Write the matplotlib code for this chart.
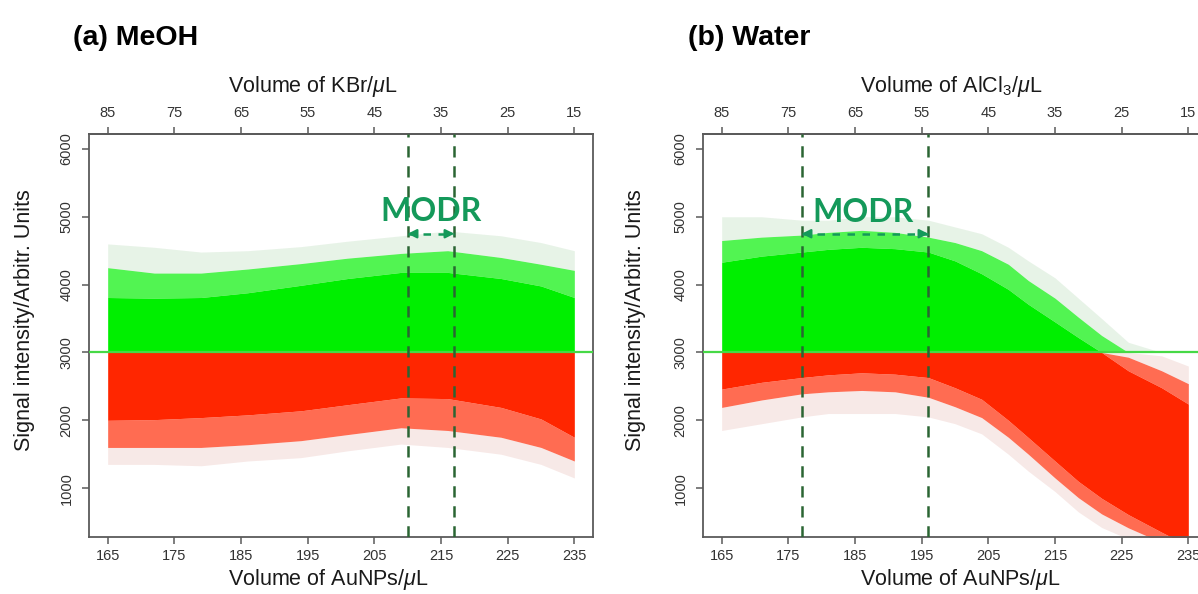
import numpy as np
import matplotlib
matplotlib.use("Agg")
import matplotlib.pyplot as plt
from matplotlib import font_manager

# ---------------- data ----------------
THRESHOLD = 3000
TOTAL_VOLUME = 250  # AuNPs + salt

bottom_ticks = [165, 175, 185, 195, 205, 215, 225, 235]
top_ticks = [85, 75, 65, 55, 45, 35, 25, 15]
y_ticks = [1000, 2000, 3000, 4000, 5000, 6000]

# (a) MeOH  -- envelopes of the simulated cloud
a_x = [165, 172, 179, 186, 194, 201, 209, 216, 224, 230, 235]
a_outer_top = [4600, 4550, 4480, 4500, 4560, 4640, 4720, 4790, 4720, 4620, 4500]
a_mid_top = [4250, 4170, 4170, 4230, 4310, 4390, 4460, 4500, 4400, 4300, 4210]
a_core_top = [3810, 3800, 3810, 3880, 3990, 4090, 4180, 4180, 4090, 3980, 3810]
a_core_bot = [2000, 2010, 2040, 2080, 2140, 2230, 2330, 2320, 2190, 2020, 1750]
a_mid_bot = [1600, 1600, 1600, 1640, 1700, 1790, 1890, 1850, 1750, 1600, 1400]
a_outer_bot = [1350, 1350, 1330, 1400, 1450, 1550, 1650, 1600, 1500, 1350, 1150]
a_modr = [210, 217]

# (b) Water
b_x = [165, 171, 177, 181, 186, 191, 196, 200, 204, 208, 211, 215, 218.5, 222, 226, 231, 235]
b_outer_top = [5000, 5000, 4950, 4950, 5000, 5000, 4950, 4850, 4750, 4550, 4350, 4100, 3800, 3500, 3150, 2950, 2800]
b_mid_top = [4650, 4700, 4730, 4770, 4800, 4770, 4700, 4620, 4500, 4300, 4060, 3800, 3520, 3250, 2930, 2730, 2540]
b_core_top = [4330, 4420, 4480, 4520, 4550, 4530, 4480, 4350, 4160, 3930, 3710, 3450, 3220, 3000, 2730, 2480, 2240]
b_core_bot = [2460, 2560, 2630, 2670, 2700, 2680, 2630, 2480, 2310, 2000, 1745, 1400, 1100, 850, 610, 350, 150]
b_mid_bot = [2190, 2300, 2390, 2420, 2440, 2420, 2340, 2200, 2040, 1750, 1500, 1150, 860, 620, 415, 200, 0]
b_outer_bot = [1850, 1950, 2050, 2100, 2100, 2100, 2050, 1950, 1800, 1500, 1250, 950, 650, 420, 250, 0, 0]
b_modr = [177, 196]

# ---------------- style ----------------
GREEN = "#00ef00"
GREEN_DARK = "#3f9f3f"
RED = "#ff2600"
RED_DARK = "#c54a3a"
LINE_GREEN = "#46d946"
VLINE = "#2a6533"
MODR_COLOR = "#14995a"
FRAME = "#5a5a5a"

names = {f.name for f in font_manager.fontManager.ttflist}
if "Liberation Sans Narrow" in names:
    TICK_FONT, TICK_SIZE = "Liberation Sans Narrow", 12.5
else:
    TICK_FONT, TICK_SIZE = "Liberation Sans", 10.5
MAIN_FONT = "Liberation Sans"
MODR_FONT = "Lato" if "Lato" in names else "DejaVu Sans"

W, H = 1198, 594
fig = plt.figure(figsize=(W / 100, H / 100), dpi=100)


def fx(px):
    return px / W


def fy(py):
    return 1 - py / H


def draw_cloud(ax, x, outer_bot, mid_bot, core_bot, core_top, mid_top, outer_top):
    x = np.asarray(x, float)
    layers = [
        (outer_bot, mid_bot, "outer"),
        (mid_bot, core_bot, "mid"),
        (core_bot, core_top, "core"),
        (core_top, mid_top, "mid"),
        (mid_top, outer_top, "outer"),
    ]
    style = {
        "core": ((GREEN, 1.0), (RED, 1.0)),
        "mid": ((GREEN, 0.68), (RED, 0.68)),
        "outer": ((GREEN_DARK, 0.12), (RED_DARK, 0.12)),
    }
    for lo, hi, kind in layers:
        lo = np.asarray(lo, float)
        hi = np.asarray(hi, float)
        (gc, ga), (rc, ra) = style[kind]
        ax.fill_between(x, np.maximum(lo, THRESHOLD), np.maximum(hi, THRESHOLD),
                        color=gc, alpha=ga, lw=0)
        ax.fill_between(x, np.minimum(lo, THRESHOLD), np.minimum(hi, THRESHOLD),
                        color=rc, alpha=ra, lw=0)


def setup_axes(rect, top_label, xlab_left_px, ylab_x_px, title, title_px, modr,
               modr_center_px, cloud):
    ax = fig.add_axes(rect)
    ax.set_xlim(162.2, 237.8)
    ax.set_ylim(280, 6220)
    draw_cloud(ax, *cloud)
    ax.axhline(THRESHOLD, color=LINE_GREEN, lw=1.6, zorder=3)
    for v in modr:
        ax.axvline(v, color=VLINE, lw=1.8, ls=(0, (4.5, 3.5)), zorder=4)
    # MODR arrow
    y_arrow = 4750
    ax.plot(modr, [y_arrow, y_arrow], color=MODR_COLOR, lw=1.8, ls=(0, (3, 3)), zorder=5)
    for a, b in ((modr[0] + 1.2, modr[0]), (modr[1] - 1.2, modr[1])):
        ax.annotate("", xy=(b, y_arrow), xytext=(a, y_arrow),
                    arrowprops=dict(arrowstyle="-|>", color=MODR_COLOR, lw=1.6,
                                    mutation_scale=13, shrinkA=0, shrinkB=0),
                    zorder=6)
    fig.text(fx(modr_center_px[0]), fy(modr_center_px[1]), "MODR", color=MODR_COLOR,
             fontsize=23, fontweight="bold", family=MODR_FONT, ha="center", va="center")

    for s in ax.spines.values():
        s.set_color(FRAME)
        s.set_linewidth(1.3)
    ax.set_xticks(bottom_ticks)
    ax.set_yticks(y_ticks)
    ax.tick_params(direction="out", length=5, width=1.1, color=FRAME, labelcolor="#333333",
                   pad=4)
    ax.tick_params(axis="y", pad=6)
    for lab in ax.get_xticklabels():
        lab.set_family(TICK_FONT)
        lab.set_fontsize(TICK_SIZE)
    for lab in ax.get_yticklabels():
        lab.set_family(TICK_FONT)
        lab.set_fontsize(TICK_SIZE)
        lab.set_rotation(90)
        lab.set_va("center")

    sec = ax.secondary_xaxis("top", functions=(lambda v: TOTAL_VOLUME - v,
                                               lambda v: TOTAL_VOLUME - v))
    sec.set_xticks(top_ticks)
    sec.tick_params(direction="out", length=5, width=1.1, color=FRAME, labelcolor="#333333",
                    pad=5)
    for lab in sec.get_xticklabels():
        lab.set_family(TICK_FONT)
        lab.set_fontsize(TICK_SIZE)
    sec.spines["top"].set_color(FRAME)
    sec.spines["top"].set_linewidth(1.3)

    fig.text(fx(xlab_left_px), fy(87), top_label, fontsize=15.5, family=MAIN_FONT,
             ha="left", va="center", color="#1a1a1a")
    fig.text(fx(xlab_left_px), fy(580), "Volume of AuNPs/$\\mu$L", fontsize=15.5,
             family=MAIN_FONT, ha="left", va="center", color="#1a1a1a")
    fig.text(fx(title_px), fy(38), title, fontsize=20.5, fontweight="bold",
             family=MAIN_FONT, ha="left", va="center", color="black")
    fig.text(fx(ylab_x_px), fy(320), "Signal intensity/Arbitr. Units", fontsize=15.5,
             family=MAIN_FONT, color="#1a1a1a", rotation=90, ha="center", va="center")
    return ax


plt.rcParams["mathtext.fontset"] = "custom"
plt.rcParams["mathtext.it"] = "Liberation Sans:italic"
plt.rcParams["mathtext.rm"] = "Liberation Sans"

ax_a = setup_axes([fx(89), fy(537), fx(504), 403 / H],
                  "Volume of KBr/$\\mu$L", 228, 25, "(a) MeOH", 73,
                  a_modr, (431, 212),
                  (a_x, a_outer_bot, a_mid_bot, a_core_bot, a_core_top, a_mid_top, a_outer_top))
ax_b = setup_axes([fx(703), fy(537), fx(504), 403 / H],
                  "Volume of AlCl$_3$/$\\mu$L", 860, 636, "(b) Water", 688,
                  b_modr, (863, 213),
                  (b_x, b_outer_bot, b_mid_bot, b_core_bot, b_core_top, b_mid_top, b_outer_top))

fig.savefig("out.png", dpi=100)
